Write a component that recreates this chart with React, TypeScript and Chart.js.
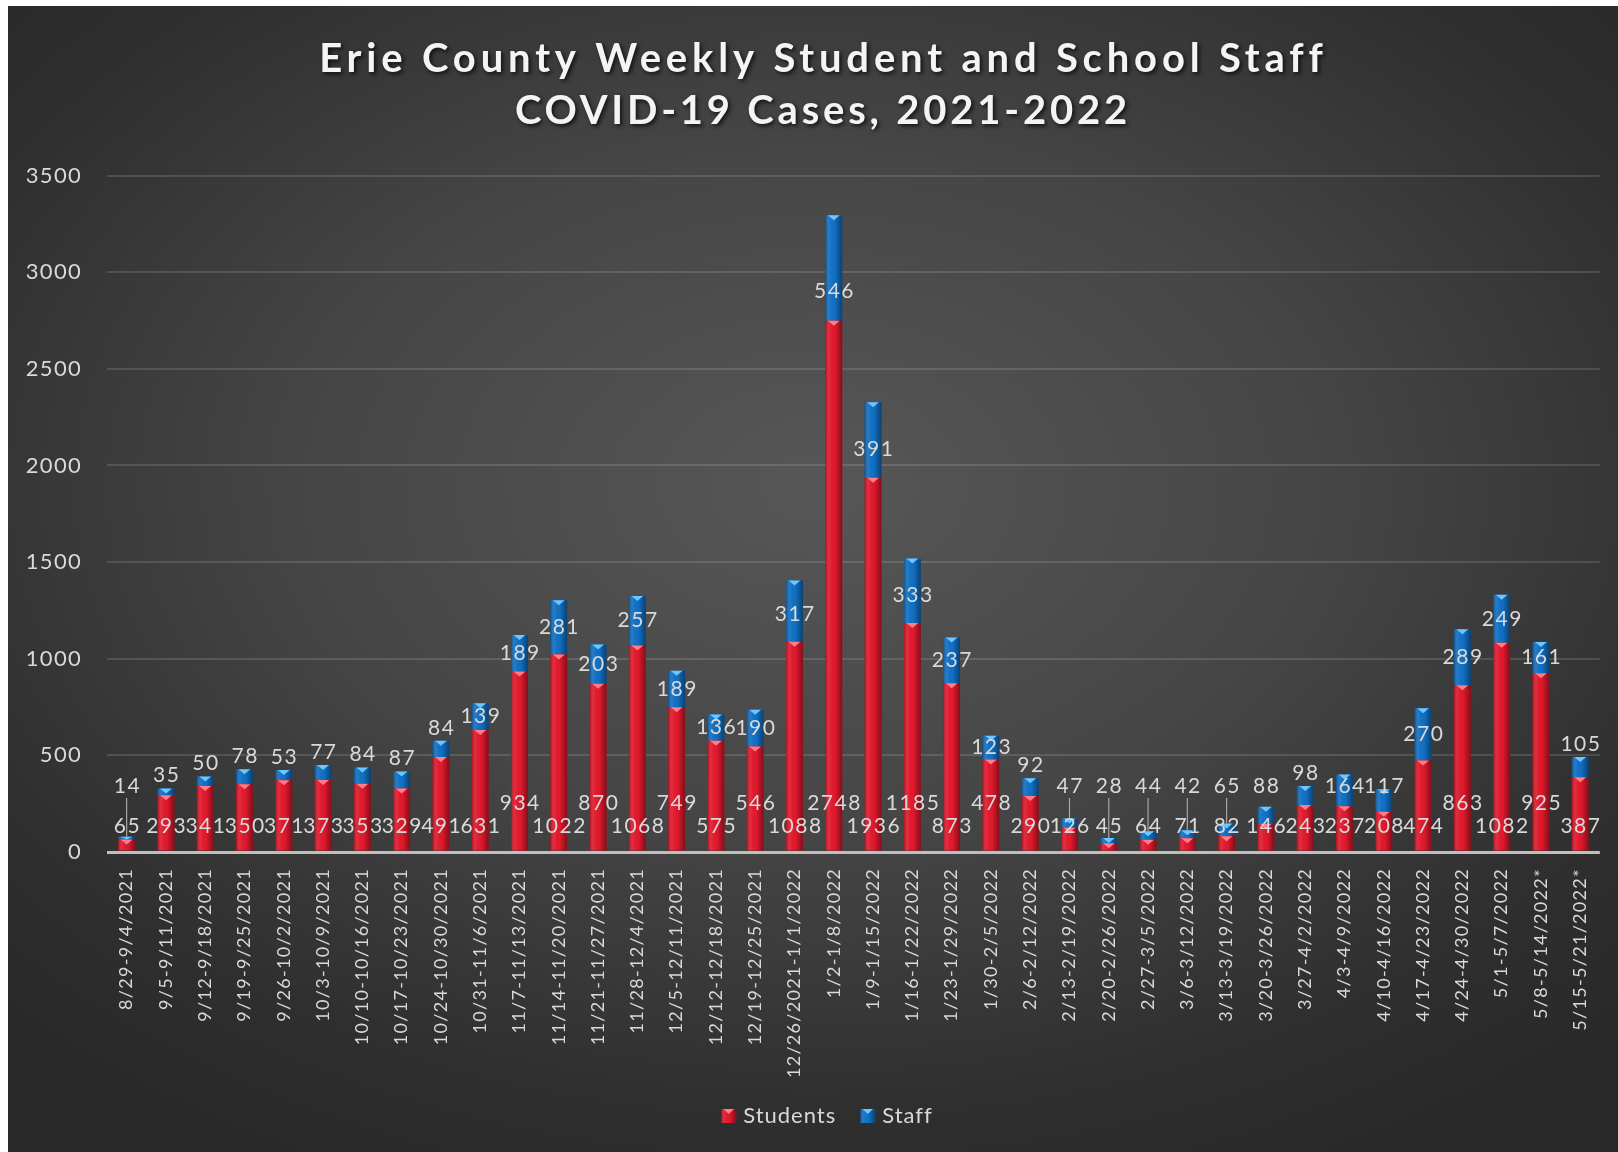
import { useEffect, useRef } from "react";
import { Chart, registerables } from "chart.js";

Chart.register(...registerables);

// ---------- data ----------
const weeks = [
  "8/29-9/4/2021", "9/5-9/11/2021", "9/12-9/18/2021", "9/19-9/25/2021", "9/26-10/2/2021",
  "10/3-10/9/2021", "10/10-10/16/2021", "10/17-10/23/2021", "10/24-10/30/2021", "10/31-11/6/2021",
  "11/7-11/13/2021", "11/14-11/20/2021", "11/21-11/27/2021", "11/28-12/4/2021", "12/5-12/11/2021",
  "12/12-12/18/2021", "12/19-12/25/2021", "12/26/2021-1/1/2022", "1/2-1/8/2022", "1/9-1/15/2022",
  "1/16-1/22/2022", "1/23-1/29/2022", "1/30-2/5/2022", "2/6-2/12/2022", "2/13-2/19/2022",
  "2/20-2/26/2022", "2/27-3/5/2022", "3/6-3/12/2022", "3/13-3/19/2022", "3/20-3/26/2022",
  "3/27-4/2/2022", "4/3-4/9/2022", "4/10-4/16/2022", "4/17-4/23/2022", "4/24-4/30/2022",
  "5/1-5/7/2022", "5/8-5/14/2022*", "5/15-5/21/2022*",
];

const students = [
  65, 293, 341, 350, 371, 373, 353, 329, 491, 631,
  934, 1022, 870, 1068, 749, 575, 546, 1088, 2748, 1936,
  1185, 873, 478, 290, 126, 45, 64, 71, 82, 146,
  243, 237, 208, 474, 863, 1082, 925, 387,
];

const staff = [
  14, 35, 50, 78, 53, 77, 84, 87, 84, 139,
  189, 281, 203, 257, 189, 136, 190, 317, 546, 391,
  333, 237, 123, 92, 47, 28, 44, 42, 65, 88,
  98, 164, 117, 270, 289, 249, 161, 105,
];

const seriesNames = ["Students", "Staff"];
const titleLines = ["Erie County Weekly Student and School Staff", "COVID-19 Cases, 2021-2022"];
const yAxisMin = 0;
const yAxisMax = 3500;
const yAxisStep = 500;

// ---------- styles ----------
const W = 1610;
const H = 1146;
const FONT = "Lato, 'Open Sans', sans-serif";
const TEXT = "#d9d9d9";
const RED = "#e2192c";
const BLUE = "#1170c4";
const RED_TIP = "#ff7d8a";
const BLUE_TIP = "#6cc6ff";

function shadeBlock(ctx: CanvasRenderingContext2D, cx: number, top: number, w: number, h: number, tip: string) {
  if (h <= 0) return;
  const left = cx - w / 2;
  const g = ctx.createLinearGradient(left, 0, left + w, 0);
  g.addColorStop(0, "rgba(0,0,0,0.28)");
  g.addColorStop(0.25, "rgba(255,255,255,0.07)");
  g.addColorStop(0.55, "rgba(0,0,0,0)");
  g.addColorStop(1, "rgba(0,0,0,0.42)");
  ctx.fillStyle = g;
  ctx.fillRect(left, top, w, h);
  const tw = w * 0.7;
  const th = Math.min(5, h);
  ctx.fillStyle = tip;
  ctx.beginPath();
  ctx.moveTo(cx - tw / 2, top);
  ctx.lineTo(cx + tw / 2, top);
  ctx.lineTo(cx, top + th);
  ctx.closePath();
  ctx.fill();
}

const decorPlugin = {
  id: "decor",
  beforeDraw(chart: any) {
    chart.ctx.letterSpacing = "1.3px";
  },
  afterDatasetsDraw(chart: any) {
    const ctx: CanvasRenderingContext2D = chart.ctx;
    ctx.save();
    ctx.letterSpacing = "0px";
    const metas = [chart.getDatasetMeta(0), chart.getDatasetMeta(1)];
    const tips = [RED_TIP, BLUE_TIP];
    metas.forEach((m, di) => {
      m.data.forEach((el: any) => {
        const p = el.getProps(["x", "y", "base", "width"], true);
        shadeBlock(ctx, p.x, p.y, p.width, p.base - p.y, tips[di]);
      });
    });

    // data labels
    const sp = 1.5;
    ctx.font = `21px ${FONT}`;
    ctx.letterSpacing = sp + "px";
    ctx.fillStyle = TEXT;
    ctx.textAlign = "center";
    ctx.textBaseline = "middle";
    const y0 = chart.scales.y.getPixelForValue(0);
    const lowRow = y0 - 26;
    const highRow = y0 - 49;
    const sEls = metas[0].data.map((el: any) => el.getProps(["x", "y", "base", "width"], true));
    const tEls = metas[1].data.map((el: any) => el.getProps(["x", "y", "base", "width"], true));
    const sTexts = students.map((v) => String(v));
    const widths = sTexts.map((t) => ctx.measureText(t).width);
    const n = sTexts.length;
    const conflict: boolean[] = [];
    for (let i = 0; i < n - 1; i++) {
      conflict[i] = (widths[i] + widths[i + 1]) / 2 - (sEls[i + 1].x - sEls[i].x) > 4;
    }
    const lifted = new Array(n).fill(false);
    let i = 0;
    while (i < n) {
      if (i < n - 1 && conflict[i]) {
        let j = i;
        while (j < n - 1 && conflict[j]) j++;
        if ((j - i) % 2 === 1 && j < n - 1) j++; // keep runs odd so they end lifted
        for (let k = i; k <= j; k++) lifted[k] = (k - i) % 2 === 0;
        i = j + 1;
      } else i++;
    }
    const sY = lifted.map((l) => (l ? highRow : lowRow));
    sTexts.forEach((t, k) => ctx.fillText(t, sEls[k].x + sp / 2, sY[k]));

    staff.forEach((v, k) => {
      const p = tEls[k];
      const segH = p.base - p.y;
      let ly = segH >= 22 ? p.y + segH / 2 + Math.max(0, segH - 55) * 0.45 : p.y - 13;
      ly = Math.min(ly, sY[k] - 40);
      ctx.fillText(String(v), p.x + sp / 2, ly);
      if (p.y - (ly + 11) > 12 && p.y > sY[k] - 12) {
        ctx.save();
        ctx.strokeStyle = "#a6a6a6";
        ctx.lineWidth = 1.2;
        ctx.beginPath();
        ctx.moveTo(p.x, ly + 12);
        ctx.lineTo(p.x, p.y);
        ctx.stroke();
        ctx.restore();
      }
    });
    ctx.restore();
  },
  afterDraw(chart: any) {
    const ctx: CanvasRenderingContext2D = chart.ctx;
    ctx.letterSpacing = "0px";
    // title
    ctx.save();
    ctx.font = `bold 40px ${FONT}`;
    ctx.textAlign = "center";
    ctx.textBaseline = "middle";
    ctx.fillStyle = "#f4f4f4";
    ctx.shadowColor = "rgba(0,0,0,0.75)";
    ctx.shadowBlur = 4;
    ctx.shadowOffsetX = 2;
    ctx.shadowOffsetY = 2;
    const targets = [1007, 616];
    const cys = [53, 105.5];
    titleLines.forEach((t, k) => {
      ctx.letterSpacing = "0px";
      const w0 = ctx.measureText(t).width;
      const s = Math.max(0, (targets[k] - w0) / t.length);
      ctx.letterSpacing = s + "px";
      ctx.fillText(t, 813 + s / 2, cys[k]);
    });
    ctx.restore();

    // legend
    ctx.save();
    ctx.font = `22px ${FONT}`;
    ctx.letterSpacing = "1px";
    ctx.textBaseline = "middle";
    ctx.textAlign = "left";
    const box = 15;
    const gap = 7;
    const itemGap = 24;
    const colors = [RED, BLUE];
    const tipc = [RED_TIP, BLUE_TIP];
    const tw = seriesNames.map((t) => ctx.measureText(t).width);
    const total = tw.reduce((a, b) => a + b, 0) + seriesNames.length * (box + gap) + itemGap * (seriesNames.length - 1);
    let x = 819 - total / 2;
    const cy = 1110;
    seriesNames.forEach((t, k) => {
      ctx.fillStyle = colors[k];
      ctx.fillRect(x, cy - 7, box, 14);
      shadeBlock(ctx, x + box / 2, cy - 7, box, 14, tipc[k]);
      ctx.fillStyle = TEXT;
      ctx.fillText(t, x + box + gap, cy);
      x += box + gap + tw[k] + itemGap;
    });
    ctx.restore();
  },
};

export default function App() {
  const ref = useRef<HTMLCanvasElement>(null);
  useEffect(() => {
    const canvas = ref.current;
    if (!canvas) return;
    const chart = new Chart(canvas, {
      type: "bar",
      data: {
        labels: weeks,
        datasets: [
          { label: seriesNames[0], data: students, backgroundColor: RED, barPercentage: 0.43, categoryPercentage: 1 },
          { label: seriesNames[1], data: staff, backgroundColor: BLUE, barPercentage: 0.43, categoryPercentage: 1 },
        ],
      },
      options: {
        responsive: false,
        animation: false,
        devicePixelRatio: 1,
        layout: { padding: { top: 169.5, left: 0, right: 16, bottom: 57 } },
        plugins: {
          legend: { display: false },
          title: { display: false },
          tooltip: { enabled: false },
        },
        scales: {
          x: {
            stacked: true,
            grid: { display: false, drawTicks: false },
            border: { display: false },
            ticks: {
              autoSkip: false,
              minRotation: 90,
              maxRotation: 90,
              padding: 16,
              color: TEXT,
              font: { family: FONT, size: 18 },
            },
            afterFit: (s: any) => {
              s.height = 243;
            },
          },
          y: {
            stacked: true,
            min: yAxisMin,
            max: yAxisMax,
            ticks: {
              stepSize: yAxisStep,
              padding: 25,
              color: TEXT,
              font: { family: FONT, size: 22 },
              callback: (v: any) => String(v),
            },
            grid: {
              drawTicks: false,
              color: (c: any) => (c.tick && c.tick.value === 0 ? "#bfbfbf" : "rgba(255,255,255,0.13)"),
              lineWidth: (c: any) => (c.tick && c.tick.value === 0 ? 3 : 2),
            },
            border: { display: false },
            afterFit: (s: any) => {
              s.width = 99;
            },
          },
        },
      },
      plugins: [decorPlugin],
    } as any);
    return () => chart.destroy();
  }, []);

  return (
    <div
      style={{
        position: "fixed",
        left: 8,
        top: 6,
        width: W,
        height: H,
        overflow: "hidden",
        background:
          "radial-gradient(ellipse 72% 68% at 50% 42%, #575757 0%, #454545 45%, #2f2f2f 80%, #282828 100%)",
      }}
    >
      <canvas ref={ref} width={W} height={H} style={{ display: "block", width: W, height: H }} />
    </div>
  );
}
